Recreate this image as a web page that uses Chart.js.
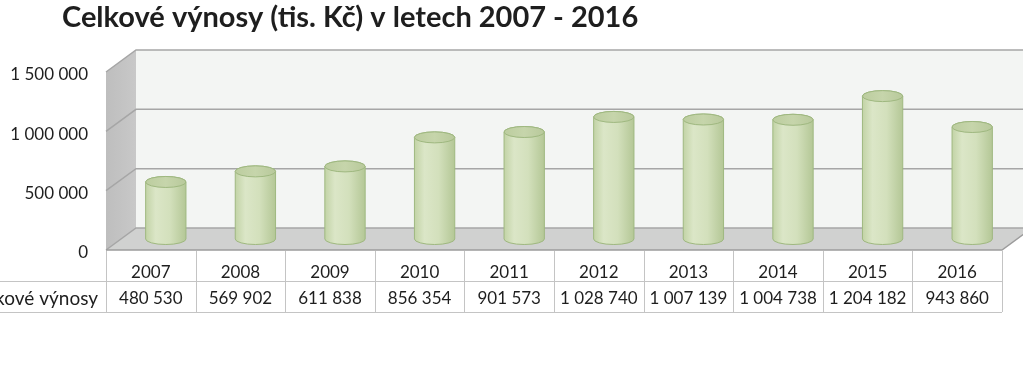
<!DOCTYPE html>
<html>
<head>
<meta charset="utf-8">
<script src="https://cdn.jsdelivr.net/npm/chart.js@4.4.0/dist/chart.umd.min.js"></script>
<style>
    html, body { margin: 0; padding: 0; background: #fff; }
    #wrap { width: 1023px; height: 369px; position: relative; }
</style>
</head>
<body>
<div id="wrap"><canvas id="chart"></canvas></div>
<script>
const titleText = 'Celkové výnosy (tis. Kč) v letech 2007 - 2016';
const seriesName = 'Celkové výnosy';
const years = ['2007', '2008', '2009', '2010', '2011', '2012', '2013', '2014', '2015', '2016'];
const revenues = [480530, 569902, 611838, 856354, 901573, 1028740, 1007139, 1004738, 1204182, 943860];
const yTicks = [0, 500000, 1000000, 1500000];

const fontFamily = 'Lato, "Open Sans", sans-serif';
const textColor = '#1e1e1e';
const depth = { dx: 30, dy: 22 };

function fmt(v) {
    return String(v).replace(/\B(?=(\d{3})+(?!\d))/g, ' ');
}

// 3D box: back wall, left wall, floor and gridlines
const boxPlugin = {
    id: 'box3d',
    beforeDatasetsDraw(chart) {
        const { ctx, chartArea: a, scales: { y } } = chart;
        const { dx, dy } = depth;
        ctx.save();

        ctx.fillStyle = '#f3f5f3';
        ctx.fillRect(a.left + dx, a.top - dy, a.right - a.left, a.bottom - a.top);

        const wall = ctx.createLinearGradient(a.left, 0, a.left + dx, 0);
        wall.addColorStop(0, '#bebebe');
        wall.addColorStop(1, '#c8c8c8');
        ctx.fillStyle = wall;
        ctx.beginPath();
        ctx.moveTo(a.left, a.top);
        ctx.lineTo(a.left + dx, a.top - dy);
        ctx.lineTo(a.left + dx, a.bottom - dy);
        ctx.lineTo(a.left, a.bottom);
        ctx.closePath();
        ctx.fill();

        ctx.fillStyle = '#d0d1d0';
        ctx.beginPath();
        ctx.moveTo(a.left, a.bottom);
        ctx.lineTo(a.left + dx, a.bottom - dy);
        ctx.lineTo(a.right + dx, a.bottom - dy);
        ctx.lineTo(a.right, a.bottom);
        ctx.closePath();
        ctx.fill();

        ctx.strokeStyle = '#a6a6a6';
        ctx.lineWidth = 1.5;
        yTicks.forEach((t) => {
            const py = y.getPixelForValue(t);
            ctx.beginPath();
            ctx.moveTo(a.left, py);
            ctx.lineTo(a.left + dx, py - dy);
            ctx.lineTo(a.right + dx, py - dy);
            ctx.stroke();
        });

        ctx.strokeStyle = '#9c9c9c';
        ctx.beginPath();
        ctx.moveTo(a.left, a.bottom);
        ctx.lineTo(a.right, a.bottom);
        ctx.lineTo(a.right + dx, a.bottom - dy);
        ctx.stroke();
        ctx.restore();
    },
    afterDatasetsDraw(chart) {
        const { ctx } = chart;
        const { dx, dy } = depth;
        const meta = chart.getDatasetMeta(0);
        ctx.save();
        meta.data.forEach((bar) => {
            const rx = bar.width / 2;
            const ry = 5.5;
            const cx = bar.x + dx / 2;
            const top = bar.y - dy / 2;
            const base = bar.base - dy / 2;

            const body = ctx.createLinearGradient(cx - rx, 0, cx + rx, 0);
            body.addColorStop(0, '#c2d3a6');
            body.addColorStop(0.25, '#dbe6c7');
            body.addColorStop(0.6, '#d3e0bc');
            body.addColorStop(1, '#b4c796');
            ctx.fillStyle = body;
            ctx.strokeStyle = '#9fb880';
            ctx.lineWidth = 1;
            ctx.beginPath();
            ctx.moveTo(cx - rx, top);
            ctx.lineTo(cx - rx, base);
            ctx.ellipse(cx, base, rx, ry, 0, Math.PI, 0, true);
            ctx.lineTo(cx + rx, top);
            ctx.ellipse(cx, top, rx, ry, 0, 0, Math.PI, true);
            ctx.closePath();
            ctx.fill();
            ctx.stroke();

            const cap = ctx.createLinearGradient(cx - rx, 0, cx + rx, 0);
            cap.addColorStop(0, '#bccd9f');
            cap.addColorStop(0.5, '#c6d5ab');
            cap.addColorStop(1, '#b8c99b');
            ctx.fillStyle = cap;
            ctx.beginPath();
            ctx.ellipse(cx, top, rx, ry, 0, 0, Math.PI * 2);
            ctx.fill();
            ctx.stroke();
        });
        ctx.restore();
    }
};

// data table under the chart plus the title
const tablePlugin = {
    id: 'dataTable',
    afterDraw(chart) {
        const { ctx, chartArea: a, scales: { x } } = chart;
        const colW = (a.right - a.left) / years.length;
        const rowMid = a.bottom + 31;
        const rowEnd = a.bottom + 62;
        ctx.save();
        ctx.strokeStyle = '#c4c4c4';
        ctx.lineWidth = 1;
        ctx.beginPath();
        for (let i = 0; i <= years.length; i++) {
            const px = Math.round(a.left + i * colW) + 0.5;
            ctx.moveTo(px, a.bottom + 1);
            ctx.lineTo(px, rowEnd);
        }
        ctx.moveTo(0, rowMid + 0.5);
        ctx.lineTo(a.right, rowMid + 0.5);
        ctx.moveTo(0, rowEnd + 0.5);
        ctx.lineTo(a.right, rowEnd + 0.5);
        ctx.stroke();

        ctx.fillStyle = textColor;
        ctx.font = '17px ' + fontFamily;
        ctx.textBaseline = 'middle';
        ctx.textAlign = 'center';
        revenues.forEach((v, i) => {
            ctx.fillText(fmt(v), x.getPixelForValue(i), rowMid + 18);
        });
        ctx.font = '19px ' + fontFamily;
        ctx.textAlign = 'right';
        ctx.fillText(seriesName, a.left - 8, rowMid + 18);

        ctx.font = 'bold 29px ' + fontFamily;
        ctx.textAlign = 'left';
        ctx.textBaseline = 'alphabetic';
        ctx.fillText(titleText, 62, 27);
        ctx.restore();
    }
};

new Chart(document.getElementById('chart'), {
    type: 'bar',
    data: {
        labels: years,
        datasets: [{
            label: seriesName,
            data: revenues,
            backgroundColor: 'rgba(0,0,0,0)',
            borderWidth: 0,
            categoryPercentage: 1,
            barPercentage: 0.45
        }]
    },
    options: {
        responsive: true,
        maintainAspectRatio: false,
        animation: false,
        layout: { padding: { top: 72, right: 21, bottom: 0, left: 0 } },
        plugins: {
            legend: { display: false },
            tooltip: { enabled: false }
        },
        scales: {
            x: {
                grid: { display: false, drawTicks: false },
                border: { display: false },
                ticks: { color: textColor, font: { family: fontFamily, size: 17 }, padding: 12 },
                afterFit(scale) { scale.height = 119; }
            },
            y: {
                min: 0,
                max: 1500000,
                grid: { display: false, drawTicks: false },
                border: { display: false },
                afterBuildTicks(scale) { scale.ticks = yTicks.map((v) => ({ value: v })); },
                ticks: {
                    color: textColor,
                    font: { family: fontFamily, size: 17 },
                    padding: 18,
                    labelOffset: 3,
                    callback: (v) => fmt(v)
                },
                afterFit(scale) { scale.width = 106; }
            }
        }
    },
    plugins: [boxPlugin, tablePlugin]
});
</script>
</body>
</html>
